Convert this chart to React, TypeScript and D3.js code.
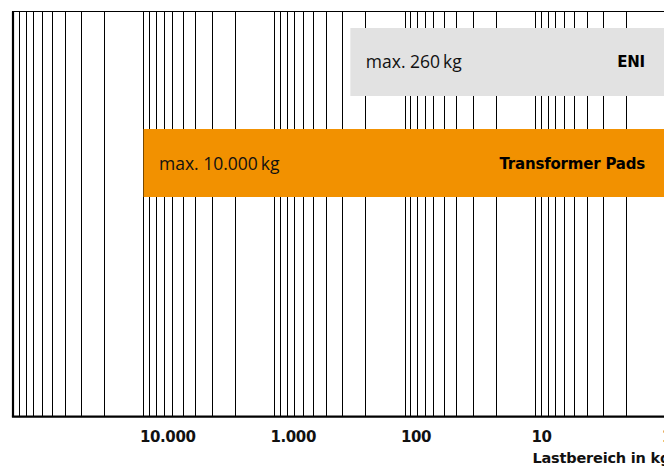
import React from "react";
import * as d3 from "d3";

// ---- data ----
const categories = ["ENI", "Transformer Pads"];
const maxLoads = [260, 10000];
const tickValues = [10000, 1000, 100, 10, 1];
const axisTitle = "Lastbereich in kg";
const domainMax = 100000;
const domainMin = 1;

const W = 664;
const H = 466;

const de = d3.formatLocale({ decimal: ",", thousands: ".", grouping: [3], currency: ["", " €"] });
const fmt = de.format(",d");

export default function App() {
  const x = d3.scaleLog().domain([domainMax, domainMin]).range([13, 665.5]);
  const y = d3.scaleBand<string>().domain(categories).range([28, 197]).paddingInner(0.327).paddingOuter(0);

  const top = 11.5;
  const bottom = 416.7;

  const grid: number[] = [];
  for (let k = 0; k < 5; k++) {
    for (let m = 1; m <= 9; m++) grid.push(m * Math.pow(10, k));
  }
  grid.push(domainMax);

  const barColors = ["#e2e2e2", "#f29100"];
  const lightFont = "'Open Sans', sans-serif";
  const boldFont = "'DejaVu Sans', sans-serif";

  return (
    <svg
      width={W}
      height={H}
      style={{ position: "absolute", left: 0, top: 0, background: "#fff", overflow: "hidden" }}
    >
      {/* gridlines */}
      {grid.map((v, i) => {
        const px = Math.round(x(v)) + 0.5;
        const thick = v === domainMax;
        return (
          <line
            key={i}
            x1={thick ? x(v) : px}
            x2={thick ? x(v) : px}
            y1={top}
            y2={bottom}
            stroke="#000"
            strokeWidth={thick ? 2.2 : 1}
          />
        );
      })}
      {/* top line */}
      <line x1={x(domainMax) - 1} x2={W} y1={top} y2={top} stroke="#000" strokeWidth={1.2} />
      {/* bars */}
      {categories.map((c, i) => {
        const x0 = x(maxLoads[i]);
        const y0 = y(c) as number;
        const bw = y.bandwidth();
        const cy = y0 + bw / 2;
        return (
          <g key={c}>
            <rect x={x0} y={y0} width={x(domainMin) - x0} height={bw} fill={barColors[i]} />
            <text
              x={x0 + 15.5}
              y={cy + 6.5}
              fontFamily={lightFont}
              fontWeight={400}
              fontSize={17.5}
              fill="#111"
            >
              {"max. " + fmt(maxLoads[i]) + "\u2009kg"}
            </text>
            <text
              x={645}
              y={cy + 5.5}
              textAnchor="end"
              fontFamily={boldFont}
              fontWeight="bold"
              fontSize={15}
              letterSpacing={-0.2}
              fill="#000"
            >
              {c}
            </text>
          </g>
        );
      })}
      {/* bottom axis */}
      <line x1={x(domainMax) - 1.1} x2={W} y1={bottom} y2={bottom} stroke="#000" strokeWidth={2.2} />
      {tickValues.map((v) => (
        <text
          key={v}
          x={x(v) - 3.5}
          y={441.5}
          fontFamily={boldFont}
          fontWeight="bold"
          fontSize={15}
          letterSpacing={-0.4}
          fill="#111"
        >
          {fmt(v)}
        </text>
      ))}
      <text
        x={x(10) - 2.5}
        y={463}
        fontFamily={boldFont}
        fontWeight="bold"
        fontSize={14.5}
        letterSpacing={-0.2}
        fill="#111"
      >
        {axisTitle}
      </text>
    </svg>
  );
}
